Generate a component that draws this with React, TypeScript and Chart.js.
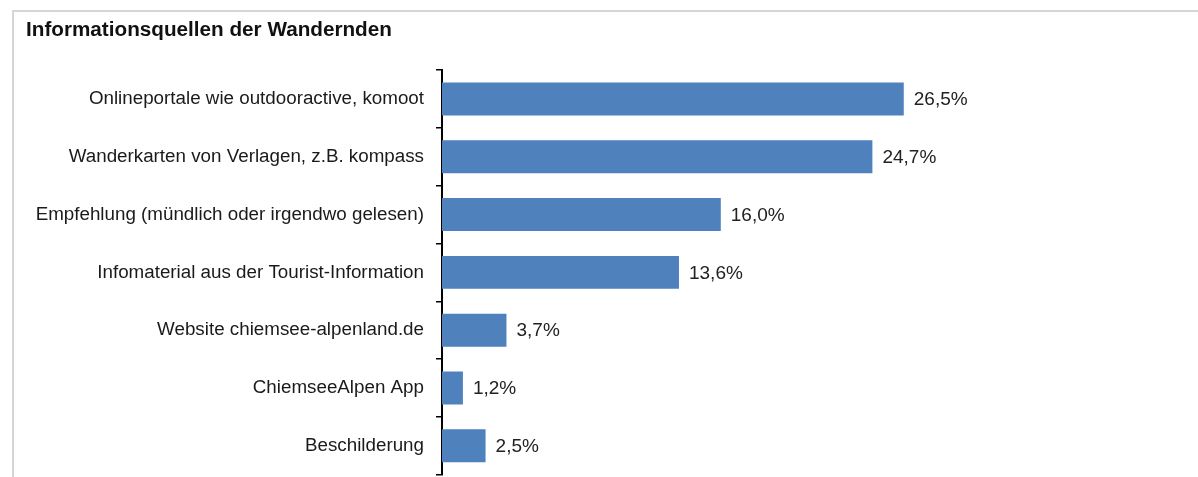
import React, { useEffect, useRef } from "react";
import { Chart, registerables } from "chart.js";

Chart.register(...registerables);

const categories = [
  "Onlineportale wie outdooractive, komoot",
  "Wanderkarten von Verlagen, z.B. kompass",
  "Empfehlung (mündlich oder irgendwo gelesen)",
  "Infomaterial aus der Tourist-Information",
  "Website chiemsee-alpenland.de",
  "ChiemseeAlpen App",
  "Beschilderung",
];
const values = [26.5, 24.7, 16.0, 13.6, 3.7, 1.2, 2.5];
const chartTitle = "Informationsquellen der Wandernden";

const FONT = "Arial, 'Liberation Sans', sans-serif";

export default function App() {
  const ref = useRef<HTMLCanvasElement | null>(null);

  useEffect(() => {
    if (!ref.current) return;
    const titlePlugin = {
      id: "customTitle",
      afterDraw(chart: any) {
        const ctx = chart.ctx;
        ctx.save();
        ctx.font = `bold 20.7px ${FONT}`;
        ctx.fillStyle = "#111";
        ctx.textBaseline = "middle";
        ctx.textAlign = "left";
        ctx.fillText(chartTitle, 26, 30);
        ctx.restore();
      },
    };
    const labelPlugin = {
      id: "valueLabels",
      afterDatasetsDraw(chart: any) {
        const ctx = chart.ctx;
        const meta = chart.getDatasetMeta(0);
        ctx.save();
        ctx.font = `19px ${FONT}`;
        ctx.fillStyle = "#222";
        ctx.textBaseline = "middle";
        ctx.textAlign = "left";
        meta.data.forEach((bar: any, i: number) => {
          const v = chart.data.datasets[0].data[i] as number;
          const txt = v.toFixed(1).replace(".", ",") + "%";
          ctx.fillText(txt, bar.x + 10, bar.y + 1);
        });
        ctx.restore();
      },
    };
    const chart = new Chart(ref.current, {
      type: "bar",
      data: {
        labels: categories,
        datasets: [
          {
            data: values,
            backgroundColor: "#4F81BD",
            borderWidth: 0,
            barPercentage: 0.57,
            categoryPercentage: 1,
          },
        ],
      },
      options: {
        indexAxis: "y",
        responsive: false,
        animation: false,
        layout: { padding: { top: 70, bottom: 3, right: 59, left: 0 } },
        plugins: {
          legend: { display: false },
          tooltip: { enabled: false },
          title: { display: false },
        },
        scales: {
          x: {
            display: false,
            min: 0,
            max: 40,
          },
          y: {
            afterFit(scale: any) {
              scale.width = 442;
            },
            grid: {
              display: true,
              offset: true,
              drawOnChartArea: false,
              drawTicks: true,
              tickLength: 6,
              color: "#000",
              lineWidth: 1.5,
            },
            border: { display: true, color: "#000", width: 2 },
            ticks: {
              color: "#1a1a1a",
              padding: 12,
              font: { family: FONT, size: 18.8 },
            },
          },
        },
      },
      plugins: [titlePlugin, labelPlugin],
    });
    return () => chart.destroy();
  }, []);

  return (
    <div style={{ position: "fixed", left: 0, top: 0, width: 1198, height: 477, background: "#fff", overflow: "hidden" }}>
      <div
        style={{
          position: "absolute",
          left: 12,
          top: 10,
          width: 1200,
          height: 480,
          borderTop: "2px solid #d6d6d6",
          borderLeft: "2px solid #d6d6d6",
        }}
      />
      <canvas ref={ref} width={1198} height={498} style={{ position: "absolute", left: 0, top: 0 }} />
    </div>
  );
}
